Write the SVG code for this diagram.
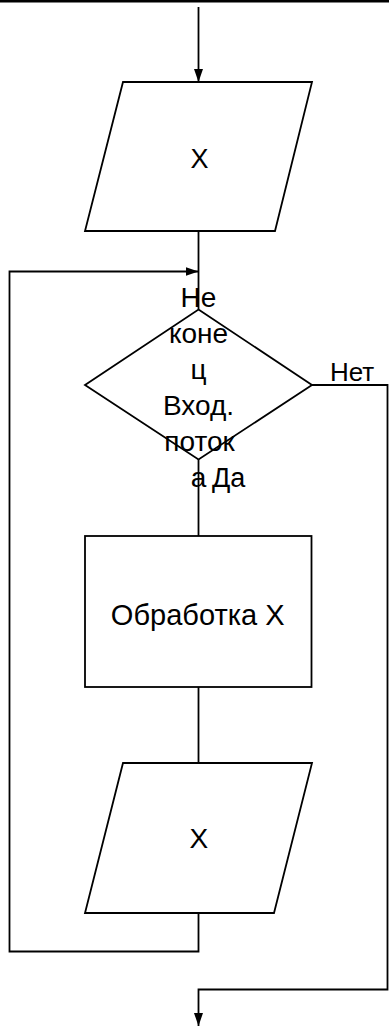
<svg xmlns="http://www.w3.org/2000/svg" width="389" height="1026" viewBox="0 0 389 1026">
<style>
.s{fill:#fff;stroke:#000;stroke-width:1.8}
.c{fill:none;stroke:#000;stroke-width:1.8}
text{font-family:"Liberation Sans",Arial,sans-serif;fill:#000}
.m{text-anchor:middle}
</style>
<defs>
<marker id="ah" viewBox="0 0 13 9" refX="13" refY="4.5" markerWidth="13" markerHeight="9" markerUnits="userSpaceOnUse" orient="auto">
<path d="M0,0L13,4.5L0,9Z" fill="#000"/>
</marker>
</defs>
<rect x="0" y="0" width="389" height="2.5" fill="#000"/>
<g id="connectors">
<path class="c" d="M198.5,7V82" marker-end="url(#ah)"/>
<path class="c" d="M198.5,231V309"/>
<path class="c" d="M198.5,913V951.5H9.5V271.5H198.5" marker-end="url(#ah)"/>
<path class="c" d="M198.5,459V536"/>
<path class="c" d="M198.5,687V763"/>
<path class="c" d="M312,385H387.5V989.5H198.5V1026" marker-end="url(#ah)"/>
</g>
<g id="input1">
<path class="s" d="M123,82H312L275,231H85Z"/>
<text class="m" x="199.5" y="167.5" font-size="27">X</text>
</g>
<g id="decision">
<path class="s" d="M198.5,309.5L312,385L198.5,459.5L85,385Z"/>
<text class="m" font-size="28"><tspan x="198.5" y="307">Не</tspan><tspan x="198.5" y="343">коне</tspan><tspan x="198.5" y="379">ц</tspan><tspan x="198.5" y="415">Вход.</tspan><tspan x="199.5" y="451">поток</tspan><tspan x="198.5" y="487">а</tspan></text>
</g>
<g id="label-no"><text x="330" y="381" font-size="26">Нет</text></g>
<g id="label-yes"><text x="212" y="487" font-size="27">Да</text></g>
<g id="process">
<rect class="s" x="85" y="536" width="226.5" height="151"/>
<text class="m" x="197.7" y="625" font-size="29">Обработка X</text>
</g>
<g id="input2">
<path class="s" d="M123,763H312L274,913H85Z"/>
<text class="m" x="198.8" y="848" font-size="28">X</text>
</g>
</svg>
